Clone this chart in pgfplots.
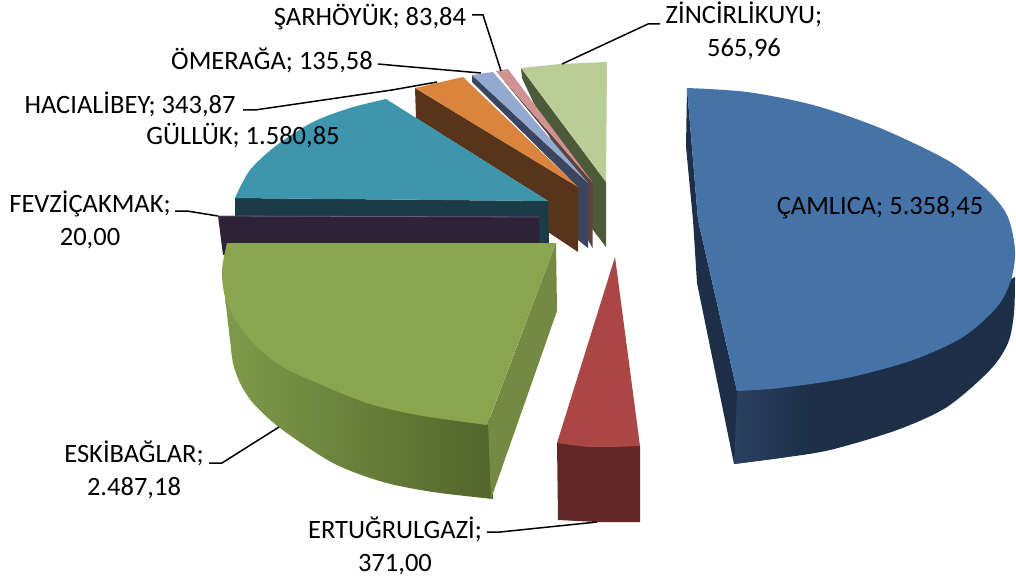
\documentclass[border=0pt]{standalone}
\usepackage{fontspec}
\setmainfont{Carlito}
\usepackage{pgfplots}
\pgfplotsset{compat=1.18}
\definecolor{bluetop}{HTML}{4572A7}
\definecolor{blueside}{HTML}{1C2F47}
\definecolor{blueside2}{HTML}{2A4061}
\definecolor{redtop}{HTML}{AA4643}
\definecolor{redside}{HTML}{632726}
\definecolor{greentop}{HTML}{89A54E}
\definecolor{greenL}{HTML}{7E9A49}
\definecolor{greenM}{HTML}{6A833C}
\definecolor{greenR}{HTML}{52652B}
\definecolor{greenface}{HTML}{728A41}
\definecolor{purpleside}{HTML}{2D2238}
\definecolor{purpletop}{HTML}{6A5585}
\definecolor{tealtop}{HTML}{3D96AE}
\definecolor{tealside}{HTML}{1B3C47}
\definecolor{orangetop}{HTML}{DB843D}
\definecolor{orangeside}{HTML}{58351A}
\definecolor{pbtop}{HTML}{93A9CF}
\definecolor{pbside}{HTML}{3B4560}
\definecolor{pinktop}{HTML}{D19392}
\definecolor{pinkside}{HTML}{5F4040}
\definecolor{pgtop}{HTML}{B9CD96}
\definecolor{pgside}{HTML}{4D5A3A}
\begin{document}
\begin{tikzpicture}
\begin{axis}[
  scale only axis, width=1016pt, height=580pt,
  xmin=0, xmax=1016, ymin=0, ymax=580, y dir=reverse,
  hide axis, clip=false,
  every axis plot/.append style={no markers, line width=0pt, draw=none},
  ]
% small slices, back to front
\addplot[fill=pgside] coordinates {(521,68)(522,78)(593,230)(606,247)(606,182)} --cycle;
\addplot[fill=pgtop] coordinates {(521,68)(560,64)(607,62)(606,182)} --cycle;
\addplot[fill=pinkside] coordinates {(496,71)(588,183)(588,240)(592.5,248)(592.5,183)} --cycle;
\addplot[fill=pinktop] coordinates {(496,71)(508,69)(593,183)} --cycle;
\addplot[fill=pbside] coordinates {(472,75)(472,82)(578,187)(578,240)(588,248)(588,183)} --cycle;
\addplot[fill=pbtop] coordinates {(472,75)(493,72)(588,183)} --cycle;
\addplot[fill=orangeside] coordinates {(416,118)(548,201)(548,232)(578,252)(578,187)(415,88)} --cycle;
\addplot[fill=orangetop] coordinates {(415,88)(463,77)(578,187)} --cycle;
% teal
\addplot[fill=tealside] coordinates {(235,198)(548,201)(549,243)(235,243)} --cycle;
\addplot[fill=tealtop, smooth] coordinates {(235,198)(250,170)(277,145)(313,122)(350,108)(386,99)};
\addplot[fill=tealtop] coordinates {(386,99)(548,201)(235,198)(290,140)} --cycle;
% purple
\addplot[fill=purpleside] coordinates {(218,216)(539,217)(539,243)(223,255)} --cycle;
\addplot[draw=purpletop, line width=0.8pt] coordinates {(218,216)(539,217)};
% green
\addplot[smooth, left color=greenL, middle color=greenM, right color=greenR] coordinates {(225,297)(230,340)(233,363)(240,383)(253,403)(280,428)(333,463)(383,482)(433,492)(493,499)};
\addplot[left color=greenL, middle color=greenM, right color=greenR] coordinates {(225,297)(300,430)(493,499)(490,410)(300,340)} --cycle;
\addplot[fill=greenface] coordinates {(556,243)(488,423)(491,499)(557,311)} --cycle;
\addplot[fill=greentop, smooth] coordinates {(227,243)(222,270)(225,297)(237,323)(257,347)(283,367)(317,383)(367,403)(417,415)(487,425)};
\addplot[fill=greentop] coordinates {(227,243)(556,243)(487,425)(330,350)} --cycle;
% blue
\addplot[fill=blueside, smooth] coordinates {(1015,277)(1014,313)(1008,343)(990,370)(947,407)(897,430)(830,450)(780,458)(734,464)};
\addplot[fill=blueside] coordinates {(737,391)(734,464)(850,420)(1015,277)(847,370)} --cycle;
\addplot[left color=blueside2, right color=blueside] coordinates {(735,391)(734,464)(780,458)(812,453)(812,380)(780,384)} --cycle;
\addplot[fill=blueside] coordinates {(687,88)(686,147)(693,220)(697,283)(734,464)(737,391)(698,220)} --cycle;
\addplot[fill=bluetop, smooth] coordinates {(687,88)(747,92)(813,105)(880,128)(947,160)(985,188)(1007,215)(1015,250)(1011,280)(997,307)(963,337)(913,360)(847,378)(780,388)(737,391)};
\addplot[fill=bluetop] coordinates {(687,88)(698,220)(737,391)(800,250)} --cycle;
% red
\addplot[fill=redside] coordinates {(557,443)(558,520)(597,522)(640,522)(640,446)} --cycle;
\addplot[fill=redtop] coordinates {(615,257)(640,446)(613,447)(587,447)(557,443)} --cycle;
% leader lines
\addplot[draw=black, line width=1.5pt] coordinates {(472,15)(483,15)(501,71)};
\addplot[draw=black, line width=1.5pt] coordinates {(378,64)(400,66)(481,73)};
\addplot[draw=black, line width=1.5pt] coordinates {(243,110)(255,110)(392,90)(437,82)};
\addplot[draw=black, line width=1.5pt] coordinates {(175,211)(187,211)(218,216)};
\addplot[draw=black, line width=1.5pt] coordinates {(660,24)(648,24)(562,64)};
\addplot[draw=black, line width=1.5pt] coordinates {(209,463)(222,463)(279,427)};
\addplot[draw=black, line width=1.5pt] coordinates {(487,532)(500,532)(597,522)};
% labels
\tikzset{lbl/.style={font=\fontsize{26.5}{33.5}\selectfont, text=black, inner sep=0pt, align=center, anchor=center}}
\node[lbl] at (axis cs:370,17) {ŞARHÖYÜK; 83,84};
\node[lbl] at (axis cs:744,31) {ZİNCİRLİKUYU;\\565,96};
\node[lbl] at (axis cs:272,60) {ÖMERAĞA; 135,58};
\node[lbl] at (axis cs:130,104) {HACIALİBEY; 343,87};
\node[lbl] at (axis cs:243,136) {GÜLLÜK; 1.580,85};
\node[lbl] at (axis cs:90,220) {FEVZİÇAKMAK;\\20,00};
\node[lbl] at (axis cs:880,208) {ÇAMLICA; 5.358,45};
\node[lbl] at (axis cs:134,470) {ESKİBAĞLAR;\\2.487,18};
\node[lbl] at (axis cs:395,546) {ERTUĞRULGAZİ;\\371,00};
\coordinate (nw) at (axis cs:0,0);
\coordinate (se) at (axis cs:1016,580);
\end{axis}
\path[use as bounding box] (nw) rectangle (se);
\end{tikzpicture}
\end{document}
